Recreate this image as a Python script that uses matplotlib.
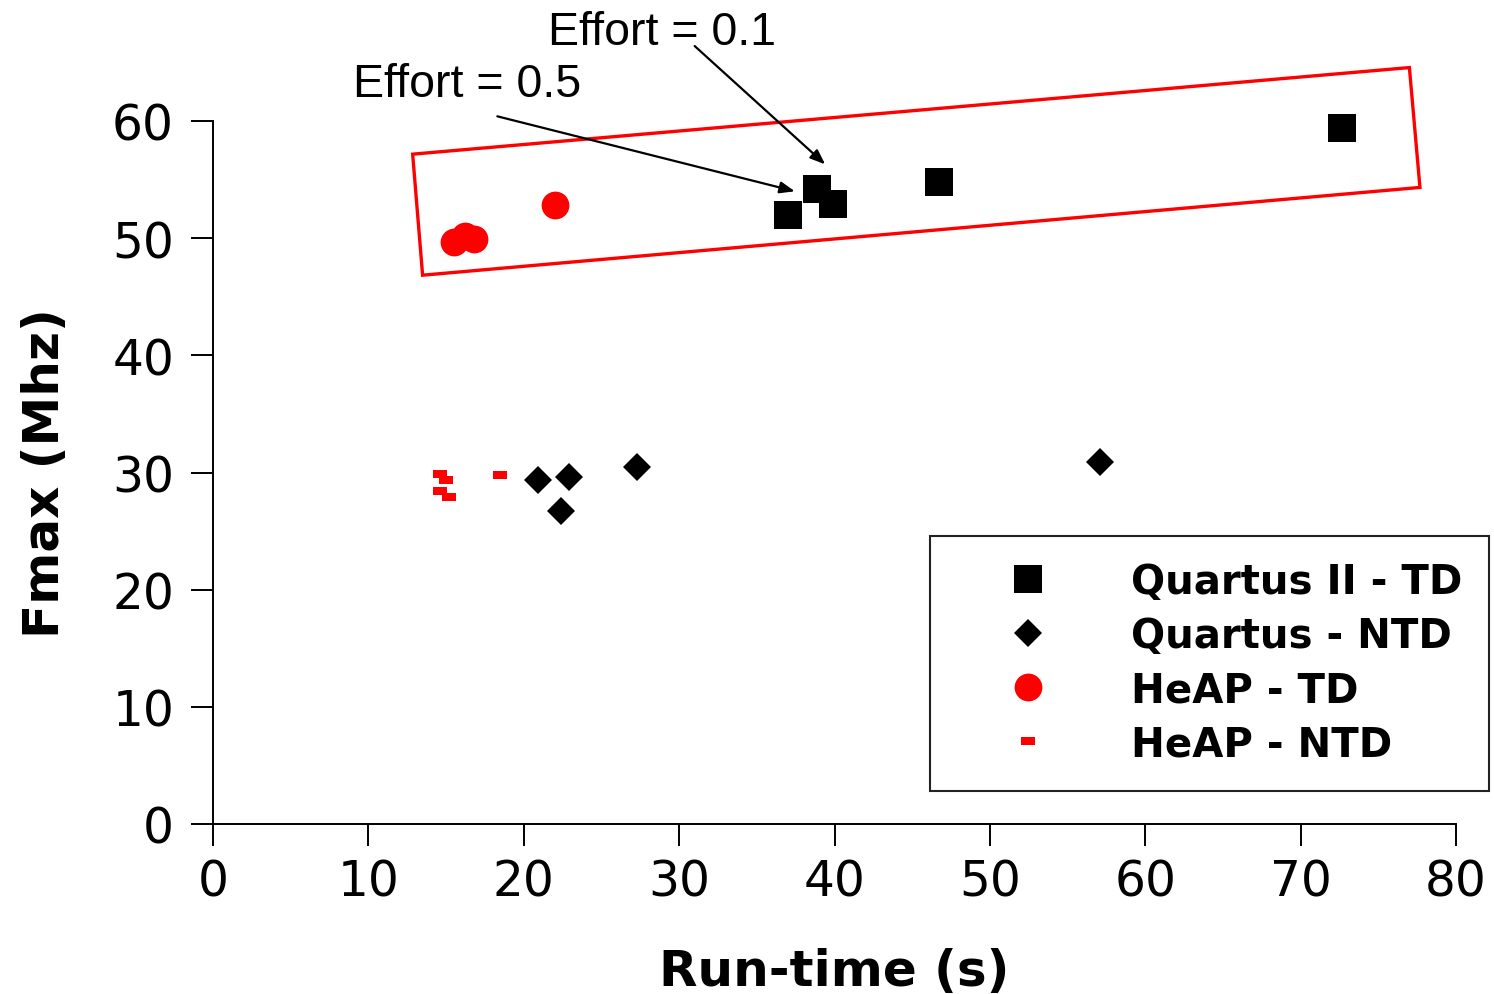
import matplotlib
matplotlib.use("Agg")
import matplotlib.pyplot as plt
from matplotlib.patches import Polygon

# Run-time (s) and Fmax (MHz) for each tool / timing-driven mode
quartus_td_runtime = [37.0, 38.9, 39.9, 46.7, 72.65]
quartus_td_fmax = [52.0, 54.2, 52.9, 54.8, 59.4]

quartus_ntd_runtime = [20.9, 22.9, 22.4, 27.3, 57.1]
quartus_ntd_fmax = [29.4, 29.6, 26.7, 30.5, 30.9]

heap_td_runtime = [15.5, 16.2, 16.8, 22.0]
heap_td_fmax = [49.7, 50.2, 49.9, 52.8]

heap_ntd_runtime = [14.6, 15.0, 14.6, 15.2, 18.5]
heap_ntd_fmax = [29.9, 29.4, 28.4, 27.9, 29.8]

series_labels = ["Quartus II - TD", "Quartus - NTD", "HeAP - TD", "HeAP - NTD"]
x_ticks = [0, 10, 20, 30, 40, 50, 60, 70, 80]
y_ticks = [0, 10, 20, 30, 40, 50, 60]

# flat rectangle marker (twice as wide as tall)
dash_marker = [(-1, -0.5), (1, -0.5), (1, 0.5), (-1, 0.5), (-1, -0.5)]

W, H = 1494, 995
fig = plt.figure(figsize=(W / 100, H / 100), dpi=100)
ax = fig.add_axes([213 / W, 1 - 825 / H, (1456 - 213) / W, (825 - 122) / H])

ax.plot(quartus_td_runtime, quartus_td_fmax, ls="none", marker="s", ms=19.5,
        mew=0, color="black", label=series_labels[0], clip_on=False)
ax.plot(quartus_ntd_runtime, quartus_ntd_fmax, ls="none", marker="D", ms=14.5,
        mew=0, color="black", label=series_labels[1], clip_on=False)
ax.plot(heap_td_runtime, heap_td_fmax, ls="none", marker="o", ms=20,
        mew=0, color="red", label=series_labels[2], clip_on=False)
ax.plot(heap_ntd_runtime, heap_ntd_fmax, ls="none", marker=dash_marker, ms=10.5,
        mew=0, color="red", label=series_labels[3], clip_on=False)

ax.set_xlim(0, 80)
ax.set_ylim(0, 60)
ax.set_xticks(x_ticks)
ax.set_yticks(y_ticks)

for side in ("top", "right"):
    ax.spines[side].set_visible(False)
for side in ("left", "bottom"):
    ax.spines[side].set_linewidth(1.4)

ax.tick_params(axis="both", direction="out", length=16, width=1.4,
               labelsize=35, colors="black")
ax.tick_params(axis="y", pad=12)
ax.tick_params(axis="x", pad=8)

ax.set_xlabel("Run-time (s)", fontsize=36, fontweight="bold", labelpad=30)
ax.set_ylabel("Fmax (Mhz)", fontsize=36, fontweight="bold", labelpad=31)

# highlight box around the timing-driven results
box = Polygon([(12.85, 57.17), (77.0, 64.56), (77.68, 54.33), (13.49, 46.84)],
              closed=True, fill=False, edgecolor="red", linewidth=2.4,
              clip_on=False, zorder=3)
ax.add_patch(box)

arrow_style = dict(arrowstyle="-|>,head_length=0.9,head_width=0.35",
                   color="black", lw=1.6, shrinkA=0, shrinkB=0)
ax.annotate("", xy=(39.4, 56.3), xytext=(31.0, 66.4),
            arrowprops=arrow_style, annotation_clip=False)
ax.annotate("", xy=(37.45, 54.0), xytext=(18.3, 60.4),
            arrowprops=arrow_style, annotation_clip=False)
ax.text(21.56, 66.55, "Effort = 0.1", fontsize=33.5, family="Liberation Sans",
        ha="left", va="baseline", clip_on=False)
ax.text(9.0, 62.1, "Effort = 0.5", fontsize=33.5, family="Liberation Sans",
        ha="left", va="baseline", clip_on=False)

leg = ax.legend(loc="upper left", bbox_to_anchor=(930 / W, 1 - 537 / H),
                bbox_transform=fig.transFigure, numpoints=1,
                prop={"size": 29, "weight": "bold"}, fancybox=False,
                frameon=True, edgecolor="#222222", framealpha=1,
                handlelength=3.55, handletextpad=0.8, borderpad=0.65,
                labelspacing=0.35, borderaxespad=0)
leg.get_frame().set_linewidth(1.5)

fig.savefig("out.png", dpi=100)
